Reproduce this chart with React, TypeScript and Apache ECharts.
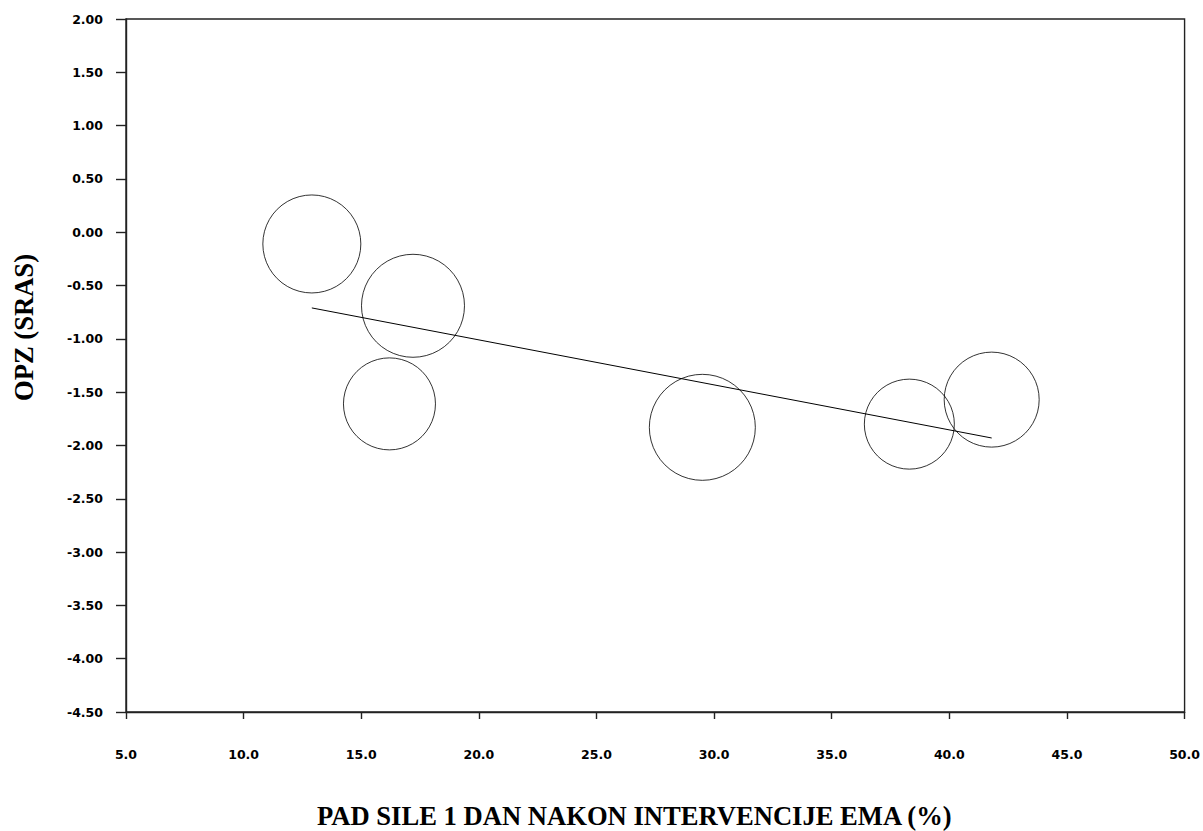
import React, { useEffect, useRef } from "react";
import * as echarts from "echarts";

// Study data
const studyX = [12.9, 17.2, 16.2, 29.5, 38.3, 41.8];
const studyY = [-0.11, -0.69, -1.61, -1.83, -1.8, -1.57];
const bubbleDiameter = [98, 103, 92, 106, 90, 95];

// Regression line end points
const fitX = [12.9, 41.8];
const fitY = [-0.71, -1.93];

const xTitle = "PAD SILE 1 DAN NAKON INTERVENCIJE EMA (%)";
const yTitle = "OPZ (SRAS)";

export default function App() {
  const ref = useRef<HTMLDivElement>(null);
  useEffect(() => {
    if (!ref.current) return;
    const chart = echarts.init(ref.current, null, { renderer: "svg" });
    const axisColor = "#222";
    const labelStyle = {
      color: "#000",
      fontFamily: "DejaVu Sans",
      fontWeight: "bold" as const,
      fontSize: 12.5,
    };
    chart.setOption({
      animation: false,
      backgroundColor: "#fff",
      grid: {
        left: 126,
        right: 18,
        top: 19,
        bottom: 119,
        show: true,
        borderColor: axisColor,
        borderWidth: 1.4,
        backgroundColor: "transparent",
      },
      xAxis: {
        type: "value",
        min: 5,
        max: 50,
        interval: 5,
        axisLine: { show: true, onZero: false, lineStyle: { color: axisColor, width: 1.4 } },
        axisTick: { show: true, length: 7, lineStyle: { color: axisColor, width: 1.4 } },
        splitLine: { show: false },
        axisLabel: {
          ...labelStyle,
          margin: 36,
          formatter: (v: number) => v.toFixed(1),
        },
      },
      yAxis: {
        type: "value",
        min: -4.5,
        max: 2,
        interval: 0.5,
        axisLine: { show: true, onZero: false, lineStyle: { color: axisColor, width: 1.4 } },
        axisTick: { show: true, length: 10, lineStyle: { color: axisColor, width: 1.4 } },
        splitLine: { show: false },
        axisLabel: {
          ...labelStyle,
          margin: 23,
          formatter: (v: number) => v.toFixed(2),
        },
      },
      graphic: [
        {
          type: "text",
          left: 317,
          top: 802,
          style: {
            text: xTitle,
            fill: "#000",
            font: "bold 26.6px 'Liberation Serif'",
          },
        },
        {
          type: "text",
          x: 24,
          y: 327.5,
          rotation: Math.PI / 2,
          style: {
            text: yTitle,
            fill: "#000",
            font: "bold 26.6px 'Liberation Serif'",
            align: "center",
            verticalAlign: "middle",
          },
        },
      ],
      series: [
        {
          type: "scatter",
          symbol: "circle",
          data: studyX.map((x, i) => [x, studyY[i], bubbleDiameter[i]]),
          symbolSize: (v: number[]) => v[2],
          itemStyle: { color: "rgba(0,0,0,0)", borderColor: "#000", borderWidth: 1 },
          silent: true,
          z: 3,
        },
        {
          type: "line",
          data: fitX.map((x, i) => [x, fitY[i]]),
          symbol: "none",
          lineStyle: { color: "#000", width: 1 },
          silent: true,
          z: 4,
        },
      ],
    });
    return () => chart.dispose();
  }, []);
  return (
    <div
      ref={ref}
      style={{ position: "absolute", left: 0, top: 0, width: 1203, height: 831 }}
    />
  );
}
